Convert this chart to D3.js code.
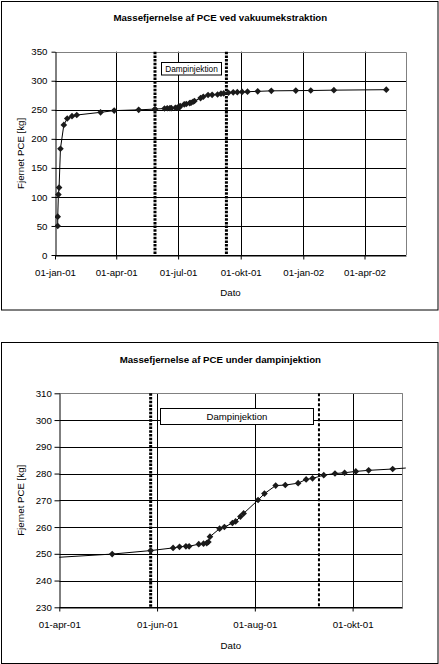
<!doctype html>
<html>
  <head>
    <meta charset="utf-8">
    <script src="https://cdn.jsdelivr.net/npm/d3@7"></script>
    <style>
      body { margin: 0; background: #fff; }
      text { font-family: "Liberation Sans", Arial, sans-serif; fill: #000; }
    </style>
  </head>
  <body>
    <div id="chart"></div>
    <script>
      // measured series (same data in both charts, the second one is a zoom)
      var dates = ["2001-01-05","2001-01-05","2001-01-06","2001-01-07","2001-01-09","2001-01-14",
        "2001-01-19","2001-01-26","2001-02-02","2001-03-09","2001-03-29","2001-05-04","2001-05-28",
        "2001-06-11","2001-06-15","2001-06-19","2001-06-21","2001-06-27","2001-06-30","2001-07-02",
        "2001-07-03","2001-07-04","2001-07-10","2001-07-13","2001-07-18","2001-07-20","2001-07-23",
        "2001-07-25","2001-08-03","2001-08-07","2001-08-14","2001-08-20","2001-08-28","2001-09-02",
        "2001-09-06","2001-09-13","2001-09-20","2001-09-26","2001-10-03","2001-10-11","2001-10-26",
        "2001-11-15","2001-12-21","2002-01-12","2002-02-15","2002-05-03"];
      var kg = [50, 66, 104, 116, 183, 224,
        235, 239, 241, 245.6, 248.6, 249.9, 251.2,
        252.2, 252.6, 252.8, 252.8, 253.6, 253.8, 254.0,
        254.4, 256.4, 259.4, 260.0, 261.5, 262.1, 263.9,
        265.1, 270.1, 272.5, 275.5, 275.7, 276.4, 277.8,
        278.2, 279.4, 280.0, 280.3, 280.8, 281.2, 281.7,
        282.6, 283.0, 283.2, 283.8, 284.6];

      // start / stop of steam injection
      var dampDates = ["2001-05-28", "2001-09-10"];

      // axes
      var xDomain1 = ["2001-01-01", "2002-06-01"];
      var xTicks1 = ["2001-01-01","2001-04-01","2001-07-01","2001-10-01","2002-01-01","2002-04-01"];
      var xLabels1 = ["01-jan-01","01-apr-01","01-jul-01","01-okt-01","01-jan-02","01-apr-02"];
      var yTicks1 = [0, 50, 100, 150, 200, 250, 300, 350];

      var xDomain2 = ["2001-04-01", "2001-11-01"];
      var xTicks2 = ["2001-04-01","2001-06-01","2001-08-01","2001-10-01"];
      var xLabels2 = ["01-apr-01","01-jun-01","01-aug-01","01-okt-01"];
      var yTicks2 = [230, 240, 250, 260, 270, 280, 290, 300, 310];

      var parse = d3.timeParse("%Y-%m-%d");
      var data = dates.map(function(d, i) { return {date: parse(d), kg: kg[i]}; });

      var svg = d3.select("#chart").append("svg")
        .attr("width", 439)
        .attr("height", 664);

      function drawChart(c) {
        var g = svg.append("g");

        // outer frame
        g.append("rect")
          .attr("x", c.frame[0]).attr("y", c.frame[1])
          .attr("width", c.frame[2]).attr("height", c.frame[3])
          .attr("fill", "#fff").attr("stroke", "#000").attr("stroke-width", 1);

        var x = d3.scaleTime()
          .domain(c.xDomain.map(parse))
          .range([c.left, c.right]);
        var y = d3.scaleLinear()
          .domain([c.yTicks[0], c.yTicks[c.yTicks.length - 1]])
          .range([c.bottom, c.top]);

        // gridlines
        g.append("g").selectAll("line.h")
          .data(c.yTicks)
          .enter().append("line")
            .attr("x1", c.left).attr("x2", c.right)
            .attr("y1", function(d) { return Math.round(y(d)) + 0.5; })
            .attr("y2", function(d) { return Math.round(y(d)) + 0.5; })
            .attr("stroke", "#000");
        g.append("g").selectAll("line.v")
          .data(c.xTicks.slice(1))
          .enter().append("line")
            .attr("x1", function(d) { return Math.round(x(parse(d))) + 0.5; })
            .attr("x2", function(d) { return Math.round(x(parse(d))) + 0.5; })
            .attr("y1", c.top).attr("y2", c.bottom)
            .attr("stroke", "#000");

        // plot border (grey, top and right)
        g.append("path")
          .attr("d", "M" + c.left + "," + (Math.round(c.top) + 0.5) + "H" + (Math.round(c.right) + 0.5) + "V" + c.bottom)
          .attr("fill", "none").attr("stroke", "#808080");

        // axes
        var yAxis = g.append("g")
          .attr("transform", "translate(" + (Math.round(c.left) + 0.5) + ",0)")
          .call(d3.axisLeft(y).tickValues(c.yTicks).tickSize(c.yTickSize).tickSizeOuter(0).tickPadding(c.yPad));
        var xAxis = g.append("g")
          .attr("transform", "translate(0," + (Math.round(c.bottom) + 0.5) + ")")
          .call(d3.axisBottom(x).tickValues(c.xTicks.map(parse)).tickSize(4).tickSizeOuter(0).tickPadding(9.6)
            .tickFormat(function(d, i) { return c.xLabels[i]; }));
        [xAxis, yAxis].forEach(function(a) {
          a.select(".domain").attr("stroke", "#000");
          a.selectAll(".tick line").attr("stroke", "#000");
          a.selectAll("text").attr("font-size", "9.7px").attr("font-family", null).attr("fill", "#000");
        });

        // steam injection markers
        g.append("g").selectAll("line")
          .data(dampDates)
          .enter().append("line")
            .attr("x1", function(d) { return x(parse(d)); })
            .attr("x2", function(d) { return x(parse(d)); })
            .attr("y1", c.top).attr("y2", c.bottom)
            .attr("stroke", "#000")
            .attr("stroke-width", function(d, i) { return c.dashWidth[i]; })
            .attr("stroke-dasharray", function(d, i) { return c.dashArray[i]; });

        // series
        var clipId = "clip" + c.id;
        g.append("clipPath").attr("id", clipId)
          .append("rect")
            .attr("x", c.left).attr("y", c.top - 5)
            .attr("width", c.right - c.left + 3.5).attr("height", c.bottom - c.top + 10);
        var s = g.append("g").attr("clip-path", "url(#" + clipId + ")");

        s.append("path")
          .datum(data)
          .attr("fill", "none")
          .attr("stroke", "#000")
          .attr("stroke-width", 1)
          .attr("d", d3.line()
            .x(function(d) { return x(d.date); })
            .y(function(d) { return y(d.kg); }));

        s.selectAll("path.pt")
          .data(data.filter(function(d) {
            return d.date >= x.domain()[0] && d.date <= x.domain()[1];
          }))
          .enter().append("path")
            .attr("class", "pt")
            .attr("d", d3.symbol(d3.symbolSquare, 22))
            .attr("transform", function(d) { return "translate(" + x(d.date) + "," + y(d.kg) + ") rotate(45)"; })
            .attr("fill", "#1a1a1a");

        // label box
        g.append("rect")
          .attr("x", c.box[0]).attr("y", c.box[1])
          .attr("width", c.box[2]).attr("height", c.box[3])
          .attr("fill", "#fff").attr("stroke", "#000");
        g.append("text")
          .attr("x", c.box[0] + c.box[2] / 2)
          .attr("y", c.box[1] + c.box[3] / 2)
          .attr("dy", "0.35em")
          .attr("text-anchor", "middle")
          .attr("font-size", c.boxFont)
          .text("Dampinjektion");

        // titles
        g.append("text")
          .attr("x", 220.3).attr("y", c.titleY)
          .attr("text-anchor", "middle")
          .attr("font-size", "9.7px")
          .attr("font-weight", "bold")
          .text(c.title);
        g.append("text")
          .attr("x", (c.left + c.right) / 2).attr("y", c.datoY)
          .attr("text-anchor", "middle")
          .attr("font-size", "9.7px")
          .text("Dato");
        g.append("text")
          .attr("transform", "translate(" + c.yLabelX + "," + ((c.top + c.bottom) / 2) + ") rotate(-90)")
          .attr("text-anchor", "middle")
          .attr("font-size", "9.7px")
          .text("Fjernet PCE [kg]");
      }

      drawChart({
        id: 1,
        frame: [1.5, 1.5, 436.5, 308.5],
        left: 55, right: 406, top: 51.7, bottom: 255,
        xDomain: xDomain1, xTicks: xTicks1, xLabels: xLabels1, yTicks: yTicks1,
        yTickSize: 4, yPad: 4,
        dashWidth: [3, 3], dashArray: ["2.5,1.2", "2.5,1.2"],
        box: [161.5, 62.5, 60, 12.5], boxFont: "8.3px",
        title: "Massefjernelse af PCE ved vakuumekstraktion", titleY: 20.5,
        datoY: 296, yLabelX: 23.8
      });

      drawChart({
        id: 2,
        frame: [1.5, 342.5, 436.5, 321],
        left: 59.3, right: 402.3, top: 393.3, bottom: 607.3,
        xDomain: xDomain2, xTicks: xTicks2, xLabels: xLabels2, yTicks: yTicks2,
        yTickSize: 5, yPad: 2.6,
        dashWidth: [3, 2], dashArray: ["2.5,1.2", "3,2"],
        box: [160.5, 408.5, 153, 16], boxFont: "9.6px",
        title: "Massefjernelse af PCE under dampinjektion", titleY: 362.8,
        datoY: 648.5, yLabelX: 24.3
      });
    </script>
  </body>
</html>
